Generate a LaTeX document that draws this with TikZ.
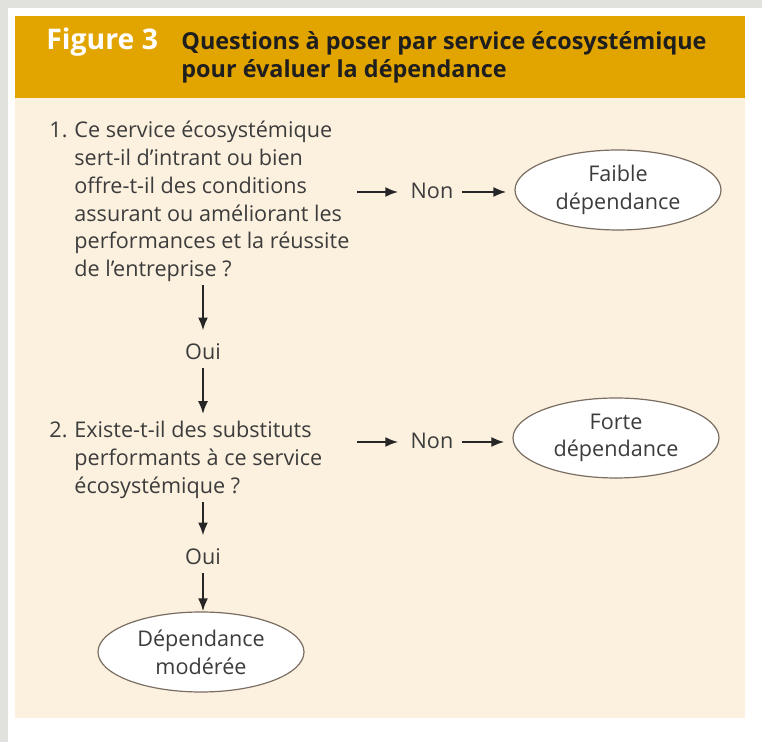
\documentclass[tikz,border=0pt]{standalone}
\usepackage{fontspec}
\setmainfont{Open Sans}
\usepackage{tikz}
\usetikzlibrary{positioning,shapes.geometric,arrows.meta}
\definecolor{pagegray}{HTML}{E1E2DD}
\definecolor{bandorange}{HTML}{E2A500}
\definecolor{panelcream}{HTML}{FCF1DF}
\definecolor{bodytext}{HTML}{3C3C3C}
\definecolor{titletext}{HTML}{1E1E1E}
\definecolor{ovalline}{HTML}{7A6E62}

\begin{document}
\begin{tikzpicture}[x=0.5pt,y=-0.5pt,>={Latex[length=6.5pt,width=5pt]},font=\fontsize{10.8}{13.85}\selectfont]

\tikzstyle{question}=[anchor=base west,inner sep=0pt,text=bodytext]
\tikzstyle{word}=[inner sep=0pt,text=bodytext]
\tikzstyle{answer}=[ellipse,draw=ovalline,fill=white,line width=0.6pt,minimum width=103pt,minimum height=40pt,inner sep=0pt,align=center,text=bodytext]
\tikzstyle{flow}=[->,line width=1.1pt,black!85]

    % page and panel
    \useasboundingbox (0,0) rectangle (762,742);
    \fill[white] (0,0) rectangle (762,742);
    \fill[pagegray] (0,0) rectangle (762,8);
    \fill[pagegray] (0,0) rectangle (8,742);
    \fill[bandorange] (15,16) rectangle (745,98);
    \fill[panelcream] (15,98) rectangle (745,718);

    % header
    \node[anchor=base west,inner sep=0pt,text=white,font=\fontsize{14.2}{15}\selectfont\bfseries] (fig) at (46,50) {Figure 3};
    \node[anchor=base west,inner sep=0pt,text=titletext,font=\fontsize{11.7}{14}\selectfont\bfseries] (title) at (181,50)
        {\begin{tabular}[t]{@{}l@{}}Questions à poser par service écosystémique\\pour évaluer la dépendance\end{tabular}};

    % questions
    \node[question] (q1) at (49,138)
        {\begin{tabular}[t]{@{}p{12.5pt}@{}l@{}}1.&Ce service écosystémique\\&sert-il d’intrant ou bien\\&offre-t-il des conditions\\&assurant ou améliorant les\\&performances et la réussite\\&de l’entreprise ?\end{tabular}};
    \node[question] (q2) at (49,438)
        {\begin{tabular}[t]{@{}p{12.5pt}@{}l@{}}2.&Existe-t-il des substituts\\&performants à ce service\\&écosystémique ?\end{tabular}};

    % answers
    \node[word] (non1) at (432,191) {Non};
    \node[word] (non2) at (432,441) {Non};
    \node[word] (oui1) at (203,352) {Oui};
    \node[word] (oui2) at (203,557) {Oui};

    \node[answer] (faible) at (618,190) {Faible\\dépendance};
    \node[answer] (forte) at (616,438) {Forte\\dépendance};
    \node[answer] (moderee) at (201,652) {Dépendance\\modérée};

    \coordinate (q1out) at (357,192);
    \coordinate (q2out) at (357,442);

\path
    (q1out) edge[flow] ([xshift=-6pt]non1.west |- q1out)
    ([xshift=4pt]non1.east |- q1out) edge[flow, shorten >=4pt] (faible.west |- q1out)
    (q2out) edge[flow] ([xshift=-6pt]non2.west |- q2out)
    ([xshift=4pt]non2.east |- q2out) edge[flow, shorten >=4pt] (forte.west |- q2out)
    (q1.south -| oui1) edge[flow, shorten >=6.5pt] (oui1)
    (oui1) edge[flow, shorten <=4pt, shorten >=2pt] (oui1 |- q2.north)
    (q2.south -| oui2) edge[flow, shorten >=6.5pt] (oui2)
    (oui2) edge[flow, shorten <=4pt] (oui2 |- moderee.north);
\end{tikzpicture}
\end{document}
